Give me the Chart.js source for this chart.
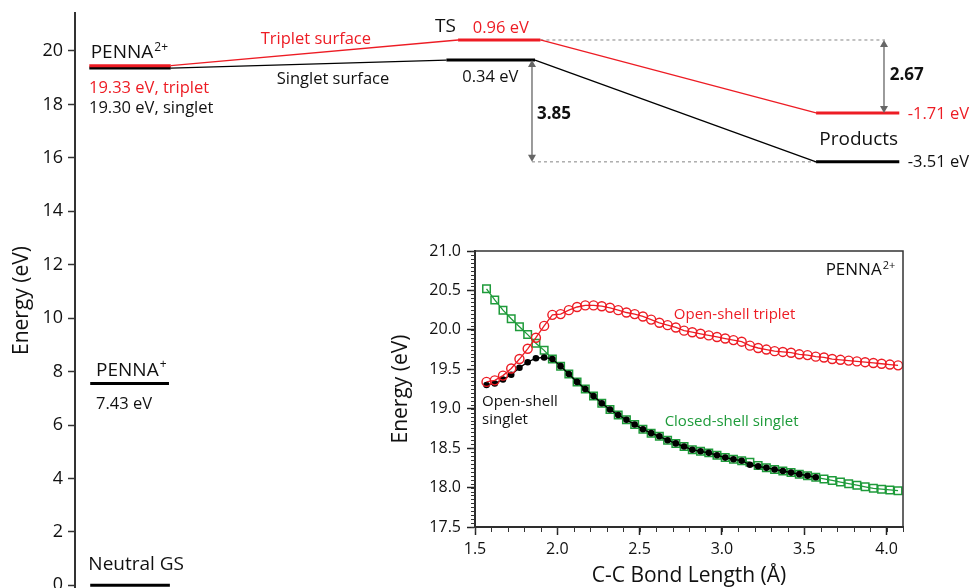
<!DOCTYPE html>
<html lang="en">
<head>
<meta charset="UTF-8">
<title>PENNA dication energy diagram</title>
<script src="https://cdn.jsdelivr.net/npm/chart.js"></script>
<style>
  html, body { margin: 0; padding: 0; background: #fff; overflow: hidden; }
  #wrap { position: relative; width: 970px; height: 588px; }
  #main { position: absolute; left: 0; top: 0; }
  #inset { position: absolute; left: 388px; top: 240px; }
</style>
</head>
<body>
<div id="wrap">
  <canvas id="main" width="970" height="588"></canvas>
  <canvas id="inset" width="582" height="349"></canvas>
</div>
<script>
// ---- main diagram data (energies as drawn, eV) ----
const stageNames = ['PENNA', 'TS', 'Products', 'PENNA', 'Neutral GS'];
const tripletLevels = [19.45, 20.41, 17.68];   // PENNA2+, TS, Products
const singletLevels = [19.36, 19.66, 15.85];
const cationLevel = 7.55;
const neutralLevel = 0;
const tripletLabels = ['19.33 eV, triplet', '0.96 eV', '-1.71 eV'];
const singletLabels = ['19.30 eV, singlet', '0.34 eV', '-3.51 eV'];
const gapLabels = ['3.85', '2.67'];
const energyTicks = [0, 2, 4, 6, 8, 10, 12, 14, 16, 18, 20];

// ---- inset data ----
const bondLength = [
  1.57, 1.62, 1.67, 1.72, 1.77, 1.82, 1.87, 1.92, 1.97, 2.02,
  2.07, 2.12, 2.17, 2.22, 2.27, 2.32, 2.37, 2.42, 2.47, 2.52,
  2.57, 2.62, 2.67, 2.72, 2.77, 2.82, 2.87, 2.92, 2.97, 3.02,
  3.07, 3.12, 3.17, 3.22, 3.27, 3.32, 3.37, 3.42, 3.47, 3.52,
  3.57, 3.62, 3.67, 3.72, 3.77, 3.82, 3.87, 3.92, 3.97, 4.02,
  4.07
];
const tripletE = [
  19.34, 19.36, 19.42, 19.51, 19.63, 19.76, 19.90, 20.05, 20.19, 20.20,
  20.25, 20.29, 20.31, 20.31, 20.30, 20.28, 20.25, 20.22, 20.20, 20.17,
  20.13, 20.09, 20.06, 20.03, 19.99, 19.97, 19.95, 19.93, 19.91, 19.89,
  19.87, 19.85, 19.80, 19.77, 19.75, 19.73, 19.72, 19.71, 19.69, 19.68,
  19.66, 19.65, 19.63, 19.62, 19.61, 19.60, 19.59, 19.58, 19.57, 19.56,
  19.55
];
const openSingletE = [
  19.30, 19.32, 19.37, 19.43, 19.52, 19.59, 19.64, 19.65, 19.63, 19.54,
  19.44, 19.34, 19.25, 19.16, 19.07, 18.99, 18.92, 18.86, 18.80, 18.74,
  18.69, 18.65, 18.60, 18.56, 18.52, 18.48, 18.46, 18.44, 18.41, 18.38,
  18.36, 18.34, 18.29, 18.27, 18.25, 18.23, 18.21, 18.19, 18.17, 18.15,
  18.13
];
const closedE = [
  20.52, 20.38, 20.25, 20.14, 20.04, 19.94, 19.83, 19.74, 19.63, 19.54,
  19.44, 19.34, 19.25, 19.16, 19.07, 18.99, 18.92, 18.86, 18.80, 18.74,
  18.69, 18.65, 18.60, 18.56, 18.52, 18.48, 18.46, 18.44, 18.41, 18.38,
  18.36, 18.34, 18.32, 18.28, 18.25, 18.23, 18.21, 18.19, 18.17, 18.15,
  18.13, 18.11, 18.09, 18.07, 18.05, 18.03, 18.01, 17.99, 17.98, 17.97,
  17.96
];
const bondTicks = [1.5, 2.0, 2.5, 3.0, 3.5, 4.0];
const insetEnergyTicks = [17.5, 18.0, 18.5, 19.0, 19.5, 20.0, 20.5, 21.0];

const RED = '#ed1c24';
const GREEN = '#1e9b3a';
const FONT = "'Open Sans', sans-serif";
Chart.defaults.font.family = FONT;
Chart.defaults.color = '#111';

// horizontal spans of the levels on a hidden 0..100 reaction coordinate
const span = {
  dication: [1.6, 10.7], tsT: [42.8, 52.0], tsS: [41.5, 51.4],
  products: [82.8, 92.1], cation: [1.7, 10.5], neutral: [1.7, 10.6]
};

function seg(x0, y0, x1, y1) { return [{ x: x0, y: y0 }, { x: x1, y: y1 }]; }
function levelSet(data, color) {
  return { data, showLine: true, borderColor: color, borderWidth: 3, pointRadius: 0 };
}
function thinSet(data, color, dash) {
  return { data, showLine: true, borderColor: color, borderWidth: dash ? 1.2 : 1.3,
           borderDash: dash || [], pointRadius: 0 };
}

// text with optional superscript, drawn at data coordinates
function drawNotes(chart, notes) {
  const ctx = chart.ctx, xs = chart.scales.x, ys = chart.scales.y;
  ctx.save();
  ctx.textBaseline = 'alphabetic';
  ctx.textAlign = 'left';
  notes.forEach(n => {
    const px = xs.getPixelForValue(n.x), py = ys.getPixelForValue(n.y);
    ctx.fillStyle = n.color || '#111';
    ctx.font = (n.bold ? 'bold ' : '') + n.size + 'px ' + FONT;
    ctx.fillText(n.text, px, py);
    if (n.sup) {
      const w = ctx.measureText(n.text).width;
      ctx.font = Math.round(n.size * 0.62) + 'px ' + FONT;
      ctx.fillText(n.sup, px + w + 1, py - n.size * 0.4);
    }
  });
  ctx.restore();
}

function arrow(ctx, x, y0, y1) {
  const h = 7, w = 4;
  ctx.beginPath();
  ctx.moveTo(x, y0 + 2); ctx.lineTo(x, y1 - 2); ctx.stroke();
  ctx.beginPath();
  ctx.moveTo(x, y0); ctx.lineTo(x - w, y0 + h); ctx.lineTo(x + w, y0 + h); ctx.closePath(); ctx.fill();
  ctx.beginPath();
  ctx.moveTo(x, y1); ctx.lineTo(x - w, y1 - h); ctx.lineTo(x + w, y1 - h); ctx.closePath(); ctx.fill();
}

const mainNotes = [
  { text: stageNames[0], sup: '2+', x: 1.75, y: 19.73, size: 19 },
  { text: tripletLabels[0], x: 1.56, y: 18.42, size: 16.5, color: RED },
  { text: singletLabels[0], x: 1.56, y: 17.67, size: 16.5 },
  { text: 'Triplet surface', x: 20.75, y: 20.26, size: 16.5, color: RED },
  { text: 'Singlet surface', x: 22.54, y: 18.77, size: 16.5 },
  { text: stageNames[1], x: 40.22, y: 20.72, size: 19 },
  { text: tripletLabels[1], x: 44.44, y: 20.66, size: 16.5, color: RED },
  { text: singletLabels[1], x: 43.27, y: 18.83, size: 16.5 },
  { text: gapLabels[0], x: 51.62, y: 17.46, size: 17, bold: true },
  { text: gapLabels[1], x: 91.03, y: 18.91, size: 17, bold: true },
  { text: tripletLabels[2], x: 93.04, y: 17.46, size: 16.5, color: RED },
  { text: stageNames[2], x: 83.16, y: 16.48, size: 19 },
  { text: singletLabels[2], x: 93.04, y: 15.67, size: 16.5 },
  { text: stageNames[3], sup: '+', x: 2.35, y: 7.84, size: 19 },
  { text: '7.43 eV', x: 2.35, y: 6.60, size: 16.5 },
  { text: stageNames[4], x: 1.49, y: 0.58, size: 19 }
];

const mainExtras = {
  id: 'mainExtras',
  afterDatasetsDraw(chart) {
    const ctx = chart.ctx, xs = chart.scales.x, ys = chart.scales.y;
    ctx.save();
    ctx.strokeStyle = '#666'; ctx.fillStyle = '#666'; ctx.lineWidth = 1.3;
    arrow(ctx, xs.getPixelForValue(51.06), ys.getPixelForValue(singletLevels[1]), ys.getPixelForValue(singletLevels[2]));
    arrow(ctx, xs.getPixelForValue(90.39), ys.getPixelForValue(tripletLevels[1]), ys.getPixelForValue(tripletLevels[2]));
    ctx.restore();
    drawNotes(chart, mainNotes);
  }
};

new Chart(document.getElementById('main'), {
  type: 'scatter',
  data: {
    datasets: [
      levelSet(seg(span.dication[0], tripletLevels[0], span.dication[1], tripletLevels[0]), RED),
      levelSet(seg(span.tsT[0], tripletLevels[1], span.tsT[1], tripletLevels[1]), RED),
      levelSet(seg(span.products[0], tripletLevels[2], span.products[1], tripletLevels[2]), RED),
      thinSet(seg(span.dication[1], tripletLevels[0], span.tsT[0], tripletLevels[1]), RED),
      thinSet(seg(span.tsT[1], tripletLevels[1], span.products[0], tripletLevels[2]), RED),
      levelSet(seg(span.dication[0], singletLevels[0], span.dication[1], singletLevels[0]), '#000'),
      levelSet(seg(span.tsS[0], singletLevels[1], span.tsS[1], singletLevels[1]), '#000'),
      levelSet(seg(span.products[0], singletLevels[2], span.products[1], singletLevels[2]), '#000'),
      thinSet(seg(span.dication[1], singletLevels[0], span.tsS[0], singletLevels[1]), '#000'),
      thinSet(seg(span.tsS[1], singletLevels[1], span.products[0], singletLevels[2]), '#000'),
      thinSet(seg(span.tsT[1], tripletLevels[1], 90.5, tripletLevels[1]), '#999', [3, 3]),
      thinSet(seg(51.06, singletLevels[2], span.products[0], singletLevels[2]), '#999', [3, 3]),
      levelSet(seg(span.cation[0], cationLevel, span.cation[1], cationLevel), '#000'),
      levelSet(seg(span.neutral[0], neutralLevel, span.neutral[1], neutralLevel), '#000')
    ]
  },
  options: {
    responsive: false,
    animation: false,
    events: [],
    layout: { padding: { left: 9, top: 13, right: 0, bottom: 0 } },
    plugins: { legend: { display: false }, tooltip: { enabled: false } },
    scales: {
      x: { type: 'linear', min: 0, max: 100, display: false },
      y: {
        min: -0.1, max: 21.42,
        afterBuildTicks: s => { s.ticks = energyTicks.map(v => ({ value: v })); },
        afterFit: s => { s.width = 66; s.paddingTop = 0; s.paddingBottom = 0; },
        border: { color: '#333', width: 2 },
        grid: { drawOnChartArea: false, tickLength: 7, tickColor: '#333', tickWidth: 1.5 },
        ticks: { color: '#111', font: { size: 18 }, padding: 5 },
        title: { display: true, text: 'Energy (eV)', color: '#111', font: { size: 21 }, padding: 0 }
      }
    }
  },
  plugins: [mainExtras]
});

// ---- inset ----
const insetNotes = [
  { text: 'PENNA', sup: '2+', x: 3.63, y: 20.69, size: 17 },
  { text: 'Open-shell triplet', x: 2.708, y: 20.14, size: 15, color: RED },
  { text: 'Open-shell', x: 1.543, y: 19.03, size: 15 },
  { text: 'singlet', x: 1.543, y: 18.81, size: 15 },
  { text: 'Closed-shell singlet', x: 2.652, y: 18.785, size: 15, color: GREEN }
];

const insetExtras = {
  id: 'insetExtras',
  afterDraw(chart) {
    const ctx = chart.ctx, a = chart.chartArea, xs = chart.scales.x, ys = chart.scales.y;
    ctx.save();
    ctx.strokeStyle = '#333';
    ctx.lineWidth = 1.5;
    ctx.strokeRect(a.left, a.top, a.right - a.left, a.bottom - a.top);
    // minor ticks
    ctx.lineWidth = 1;
    ctx.beginPath();
    for (let k = 0; k <= 70; k++) {
      const py = Math.round(ys.getPixelForValue(17.5 + k * 0.05)) + 0.5;
      ctx.moveTo(a.left - 4, py); ctx.lineTo(a.left, py);
    }
    for (let k = 0; k <= 26; k++) {
      const px = Math.round(xs.getPixelForValue(1.5 + k * 0.1)) + 0.5;
      ctx.moveTo(px, a.bottom); ctx.lineTo(px, a.bottom + 5);
    }
    ctx.stroke();
    ctx.restore();
    drawNotes(chart, insetNotes);
  }
};

function pts(ys) { return ys.map((y, i) => ({ x: bondLength[i], y })); }

new Chart(document.getElementById('inset'), {
  type: 'scatter',
  data: {
    datasets: [
      { data: pts(tripletE), showLine: true, order: 0, borderColor: RED, borderWidth: 1.3,
        pointStyle: 'circle', pointRadius: 4.5, pointBorderWidth: 1.4,
        pointBorderColor: RED, pointBackgroundColor: 'rgba(0,0,0,0)' },
      { data: pts(openSingletE), showLine: true, order: 1, borderColor: '#000', borderWidth: 1.3,
        pointStyle: 'circle', pointRadius: 3.3, pointBorderWidth: 0,
        pointBackgroundColor: '#000' },
      { data: pts(closedE), showLine: true, order: 2, borderColor: GREEN, borderWidth: 1.3,
        pointStyle: 'rect', pointRadius: 5.3, pointBorderWidth: 1.5,
        pointBorderColor: GREEN, pointBackgroundColor: 'rgba(0,0,0,0)' }
    ]
  },
  options: {
    responsive: false,
    animation: false,
    events: [],
    layout: { padding: { left: 0, top: 11, right: 67, bottom: 0 } },
    plugins: { legend: { display: false }, tooltip: { enabled: false } },
    scales: {
      x: {
        type: 'linear', min: 1.5, max: 4.1,
        afterBuildTicks: s => { s.ticks = bondTicks.map(v => ({ value: v })); },
        afterFit: s => { s.height = 62; s.paddingLeft = 0; s.paddingRight = 0; },
        border: { color: '#222', width: 2 },
        grid: { drawOnChartArea: false, tickLength: 8, tickColor: '#222', tickWidth: 1.5 },
        ticks: { color: '#111', font: { size: 16 }, padding: 5, maxRotation: 0,
                 callback: v => Number(v).toFixed(1) },
        title: { display: true, text: 'C-C Bond Length (Å)', color: '#111', font: { size: 21 }, padding: 0 }
      },
      y: {
        min: 17.5, max: 21.0,
        afterBuildTicks: s => { s.ticks = insetEnergyTicks.map(v => ({ value: v })); },
        afterFit: s => { s.width = 87; s.paddingTop = 0; s.paddingBottom = 0; },
        border: { color: '#222', width: 2 },
        grid: { drawOnChartArea: false, tickLength: 8, tickColor: '#222', tickWidth: 1.5 },
        ticks: { color: '#111', font: { size: 16 }, padding: 6,
                 callback: v => Number(v).toFixed(1) },
        title: { display: true, text: 'Energy (eV)', color: '#111', font: { size: 21 }, padding: 0 }
      }
    }
  },
  plugins: [insetExtras]
});
</script>
</body>
</html>
